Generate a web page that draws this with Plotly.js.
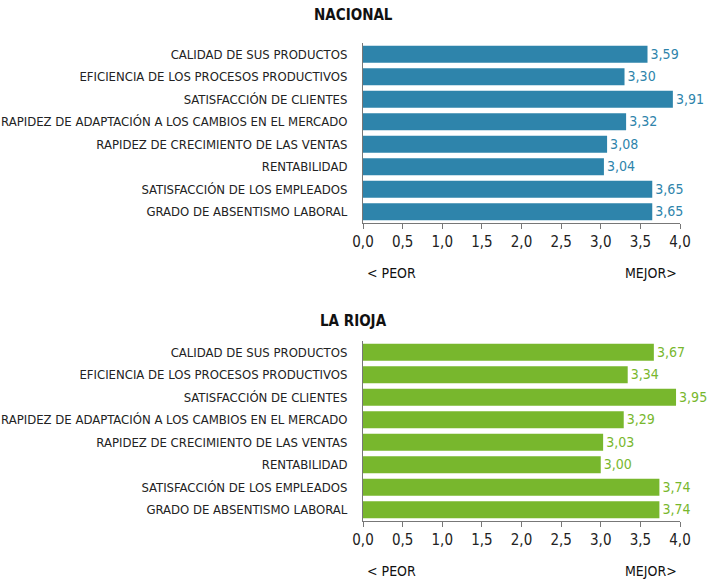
<!DOCTYPE html>
<html><head><meta charset="utf-8">
<script src="https://cdn.plot.ly/plotly-3.0.1.min.js"></script>
<style>body{margin:0;padding:0;background:#fff}#chart{width:709px;height:580px}</style>
</head><body><div id="chart"></div>
<script>
const categories = [
  "CALIDAD DE SUS PRODUCTOS",
  "EFICIENCIA DE LOS PROCESOS PRODUCTIVOS",
  "SATISFACCIÓN DE CLIENTES",
  "RAPIDEZ DE ADAPTACIÓN A LOS CAMBIOS EN EL MERCADO",
  "RAPIDEZ DE CRECIMIENTO DE LAS VENTAS",
  "RENTABILIDAD",
  "SATISFACCIÓN DE LOS EMPLEADOS",
  "GRADO DE ABSENTISMO LABORAL"
];
const nacional = [3.59, 3.30, 3.91, 3.32, 3.08, 3.04, 3.65, 3.65];
const laRioja = [3.67, 3.34, 3.95, 3.29, 3.03, 3.00, 3.74, 3.74];
const xTicks = [0, 0.5, 1, 1.5, 2, 2.5, 3, 3.5, 4];
const titles = ["NACIONAL", "LA RIOJA"];
const scaleLabels = ["< PEOR", "MEJOR>"];

const FONT = "'DejaVu Sans Condensed', 'Liberation Sans Narrow', sans-serif";
const blue = "#2e84ab", green = "#78b72d";

function barTrace(vals, color, xa, ya) {
  return {
    type: "bar", orientation: "h", x: vals, y: categories,
    xaxis: xa, yaxis: ya,
    marker: {color: color},
    text: vals.map(v => v.toFixed(2).replace(".", ",")),
    textposition: "outside", cliponaxis: false,
    textfont: {family: FONT, size: 15, color: color},
    hoverinfo: "skip"
  };
}

const axX = (anchor) => ({
  anchor: anchor, range: [0, 4], tickvals: xTicks,
  ticktext: xTicks.map(v => v.toFixed(1).replace(".", ",")),
  showgrid: false, zeroline: false, showline: true, linecolor: "#777", linewidth: 1,
  ticks: "outside", ticklen: 5, tickcolor: "#777",
  tickfont: {family: FONT, size: 15, color: "#222"}, fixedrange: true
});
const axY = (anchor, domain) => ({
  anchor: anchor, domain: domain, type: "category",
  categoryorder: "array", categoryarray: categories.slice().reverse(),
  showgrid: false, zeroline: false, showline: true, linecolor: "#777", linewidth: 1,
  ticks: "", ticklen: 0, ticklabelstandoff: 12,
  tickfont: {family: FONT, size: 13, color: "#222"}, fixedrange: true
});

const layout = {
  width: 709, height: 580,
  margin: {l: 363, r: 29, t: 43, b: 59},
  paper_bgcolor: "#fff", plot_bgcolor: "#fff",
  showlegend: false, bargap: 0.25,
  separators: ",.",
  xaxis: axX("y"), yaxis: axY("x", [0.6234, 1]),
  xaxis2: axX("y2"), yaxis2: axY("x2", [0, 0.3766]),
  annotations: [
    {text: "<b>" + titles[0] + "</b>", xref: "paper", yref: "paper", x: -0.03, y: 1, yshift: 28, showarrow: false, xanchor: "center", yanchor: "middle", font: {family: FONT, size: 15, color: "#111"}},
    {text: "<b>" + titles[1] + "</b>", xref: "paper", yref: "paper", x: -0.03, y: 0.3766, yshift: 20, showarrow: false, xanchor: "center", yanchor: "middle", font: {family: FONT, size: 15, color: "#111"}},
    {text: scaleLabels[0], xref: "x", yref: "paper", x: 0.36, y: 0.6234, yshift: -50, showarrow: false, xanchor: "center", yanchor: "middle", font: {family: FONT, size: 14, color: "#111"}},
    {text: scaleLabels[1], xref: "x", yref: "paper", x: 3.63, y: 0.6234, yshift: -50, showarrow: false, xanchor: "center", yanchor: "middle", font: {family: FONT, size: 14, color: "#111"}},
    {text: scaleLabels[0], xref: "x2", yref: "paper", x: 0.36, y: 0, yshift: -50, showarrow: false, xanchor: "center", yanchor: "middle", font: {family: FONT, size: 14, color: "#111"}},
    {text: scaleLabels[1], xref: "x2", yref: "paper", x: 3.63, y: 0, yshift: -50, showarrow: false, xanchor: "center", yanchor: "middle", font: {family: FONT, size: 14, color: "#111"}}
  ]
};

Plotly.newPlot("chart", [barTrace(nacional, blue, "x", "y"), barTrace(laRioja, green, "x2", "y2")], layout, {staticPlot: true, displayModeBar: false});
</script></body></html>
